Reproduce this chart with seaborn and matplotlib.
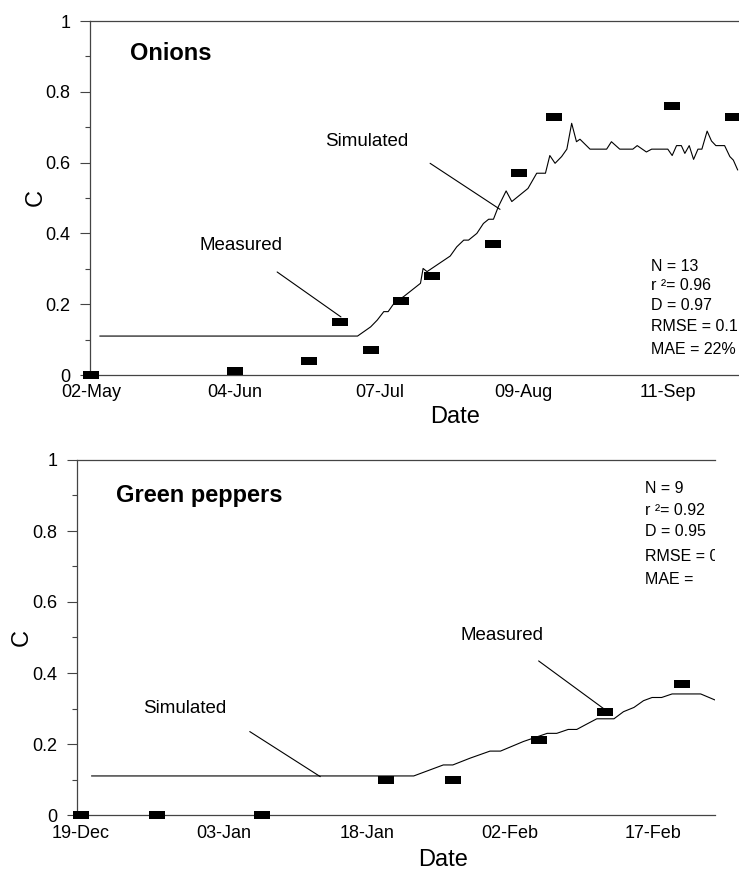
import numpy as np
import pandas as pd
import matplotlib
matplotlib.use("Agg")
import matplotlib.pyplot as plt
import matplotlib.dates as mdates
from matplotlib.ticker import MultipleLocator, FuncFormatter
import seaborn as sns

# ── Data ───────────────────────────────────────────────────────────────────────
# days are counted from the first tick date of each panel

ONION_START = pd.Timestamp("2001-05-02")
onion_meas_day = [0, 33, 50, 57, 64, 71, 78, 92, 98, 106, 133, 147]
onion_meas_c   = [0.00, 0.01, 0.04, 0.15, 0.07, 0.21, 0.28, 0.37, 0.57, 0.73, 0.76, 0.73]
onion_sim_day  = [2, 61, 64, 65.5, 67, 68, 69.6, 71.5, 75.4, 76, 76.9, 82.2, 83.7, 85.3,
                  86.4, 88.3, 89.8, 91, 92.1, 93.2, 95, 96.3, 100, 102, 104, 105, 106.2,
                  107.7, 108.9, 110, 111.1, 111.9, 114.2, 118, 119.1, 121, 124, 125,
                  127.1, 128.3, 132, 133, 134, 135.1, 135.9, 136.9, 137.9, 138.9, 139.8,
                  141, 142, 143, 145, 146.2, 147, 148]
onion_sim_c    = [0.11, 0.11, 0.136, 0.155, 0.179, 0.179, 0.207, 0.221, 0.259, 0.301, 0.292,
                  0.336, 0.362, 0.381, 0.381, 0.400, 0.428, 0.440, 0.440, 0.475, 0.520, 0.490,
                  0.527, 0.570, 0.570, 0.620, 0.598, 0.617, 0.638, 0.711, 0.659, 0.666, 0.638,
                  0.638, 0.659, 0.638, 0.638, 0.648, 0.630, 0.638, 0.638, 0.620, 0.648, 0.648,
                  0.626, 0.648, 0.609, 0.638, 0.638, 0.689, 0.661, 0.648, 0.648, 0.617, 0.607,
                  0.579]
onion_stats = ["N = 13", "r ²= 0.96", "D = 0.97", "RMSE = 0.1", "MAE = 22%"]

PEPPER_START = pd.Timestamp("2001-12-19")
pepper_meas_day = [0, 8, 19, 32, 39, 48, 55, 63]
pepper_meas_c   = [0.00, 0.00, 0.00, 0.10, 0.10, 0.21, 0.29, 0.37]
pepper_sim_day  = [1.1, 34.9, 36.4, 38, 39, 40.8, 42.9, 44, 46.4, 48.9, 49.9, 51.1, 52,
                   52.9, 54.1, 55.9, 56.9, 58, 59, 59.9, 60.9, 62, 65, 66.5]
pepper_sim_c    = [0.11, 0.11, 0.125, 0.141, 0.141, 0.160, 0.180, 0.180, 0.207, 0.230,
                   0.230, 0.241, 0.241, 0.254, 0.271, 0.271, 0.291, 0.303, 0.322, 0.331,
                   0.331, 0.341, 0.341, 0.324]
pepper_stats = ["N = 9", "r ²= 0.92", "D = 0.95", "RMSE = 0.04", "MAE ="]

# ── Style ──────────────────────────────────────────────────────────────────────
sns.set_style("ticks")
plt.rcParams["font.family"] = ["Liberation Sans", "DejaVu Sans"]
plt.rcParams["axes.edgecolor"] = "#444444"
for key in ("text.color", "axes.labelcolor", "xtick.color", "ytick.color"):
    plt.rcParams[key] = "black"

BAR = [(-1, -0.53), (1, -0.53), (1, 0.53), (-1, 0.53), (-1, -0.53)]
INK = "black"


def to_dates(start, days):
    return start + pd.to_timedelta(np.asarray(days, dtype=float), unit="D")


def draw_panel(ax, start, meas_day, meas_c, sim_day, sim_c, xlim, step, title,
               title_xy, stats, stats_x, stats_y, notes, date_xy, c_xy, xpad):
    sim = pd.DataFrame({"date": to_dates(start, sim_day), "c": sim_c})
    meas = pd.DataFrame({"date": to_dates(start, meas_day), "c": meas_c})

    sns.lineplot(data=sim, x="date", y="c", color=INK, linewidth=0.8, ax=ax)
    sns.scatterplot(data=meas, x="date", y="c", marker=BAR, s=120, color=INK,
                    linewidth=0, ax=ax, clip_on=False, zorder=4)

    ax.set_xlim(start + pd.Timedelta(days=xlim[0]), start + pd.Timedelta(days=xlim[1]))
    ax.set_xticks(pd.date_range(start, periods=5, freq=f"{step}D"))
    ax.xaxis.set_major_formatter(mdates.DateFormatter("%d-%b"))
    ax.tick_params(axis="x", length=0, pad=xpad, labelsize=13)

    ax.set_ylim(0, 1)
    ax.set_yticks(np.arange(0, 1.01, 0.2))
    ax.yaxis.set_major_formatter(FuncFormatter(lambda v, p: f"{v:g}"))
    ax.yaxis.set_minor_locator(MultipleLocator(0.1))
    ax.tick_params(axis="y", which="major", length=7, width=0.8, pad=7, labelsize=13,
                   color="#444444")
    ax.tick_params(axis="y", which="minor", length=3.5, width=0.8, color="#444444")

    ax.spines["right"].set_visible(False)
    for side in ("left", "top", "bottom"):
        ax.spines[side].set_linewidth(0.9)

    ax.set_xlabel("Date", fontsize=17)
    ax.set_ylabel("C", fontsize=17)
    ax.xaxis.set_label_coords(*date_xy)
    ax.yaxis.set_label_coords(*c_xy)

    ax.text(title_xy[0], title_xy[1], title, transform=ax.transAxes, fontsize=17,
            fontweight="bold", ha="left", va="center")

    for line, y in zip(stats, stats_y):
        ax.text(stats_x, y, line, transform=ax.transAxes, fontsize=11.5,
                ha="left", va="center", clip_on=True)

    for label, text_at, line_from, line_to in notes:
        ax.text(mdates.date2num(start + pd.Timedelta(days=text_at[0])), text_at[1],
                label, fontsize=13.5, ha="center", va="center")
        ax.annotate("", xy=(mdates.date2num(start + pd.Timedelta(days=line_to[0])), line_to[1]),
                    xytext=(mdates.date2num(start + pd.Timedelta(days=line_from[0])), line_from[1]),
                    arrowprops=dict(arrowstyle="-", color=INK, lw=0.8, shrinkA=0, shrinkB=0))


fig = plt.figure(figsize=(7.39, 8.71), dpi=100)
W, H = 739, 871

# top panel: axes runs past the right edge of the picture
ax1 = fig.add_axes([90 / W, (H - 375) / H, 670 / W, 354 / H])
draw_panel(
    ax1, ONION_START, onion_meas_day, onion_meas_c, onion_sim_day, onion_sim_c,
    xlim=(-0.23, 153.1), step=33, title="Onions", title_xy=(0.06, 0.907),
    stats=onion_stats, stats_x=0.838, stats_y=[0.306, 0.254, 0.196, 0.136, 0.073],
    notes=[("Measured", (34.3, 0.367), (42.6, 0.291), (57.2, 0.164)),
           ("Simulated", (63.0, 0.659), (77.6, 0.598), (93.6, 0.468))],
    date_xy=(0.545, -0.088), c_xy=(-0.064, 0.5), xpad=6.5,
)

ax2 = fig.add_axes([77 / W, (H - 815) / H, 638 / W, 355 / H])
draw_panel(
    ax2, PEPPER_START, pepper_meas_day, pepper_meas_c, pepper_sim_day, pepper_sim_c,
    xlim=(-0.42, 66.5), step=15, title="Green peppers", title_xy=(0.061, 0.899),
    stats=pepper_stats, stats_x=0.89, stats_y=[0.920, 0.859, 0.799, 0.728, 0.662],
    notes=[("Simulated", (10.9, 0.300), (17.7, 0.235), (25.1, 0.108)),
           ("Measured", (44.2, 0.507), (48.0, 0.434), (54.8, 0.300))],
    date_xy=(0.574, -0.095), c_xy=(-0.069, 0.5), xpad=7.5,
)

fig.savefig("out.png", dpi=100)
